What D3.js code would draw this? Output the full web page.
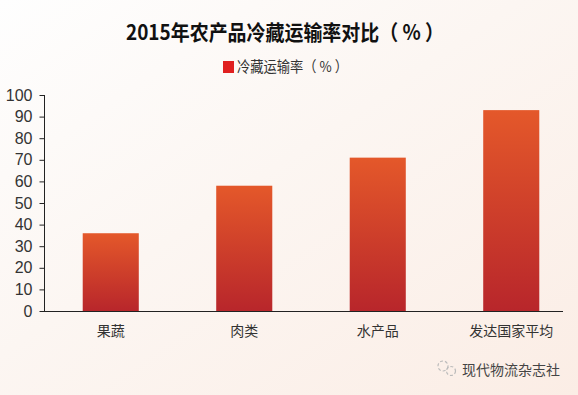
<!DOCTYPE html>
<html>
<head>
<meta charset="utf-8">
<script src="https://cdn.jsdelivr.net/npm/d3@7"></script>
<style>
  html, body { margin: 0; padding: 0; }
  body { width: 578px; height: 395px; overflow: hidden; }
  text { font-family: "Liberation Sans", "Noto Sans CJK SC", sans-serif; }
</style>
</head>
<body>
<div id="chart"></div>
<script>
// data
var categories = ["果蔬", "肉类", "水产品", "发达国家平均"];
var values = [36, 58, 71, 93];
var yTicks = [0, 10, 20, 30, 40, 50, 60, 70, 80, 90, 100];

var width = 578, height = 395;
var plotLeft = 44, plotTop = 95, plotBottom = 311;

var svg = d3.select("#chart").append("svg")
    .attr("width", width)
    .attr("height", height);

var defs = svg.append("defs");
var bg = defs.append("linearGradient").attr("id", "bg")
    .attr("x1", "0%").attr("y1", "0%").attr("x2", "100%").attr("y2", "100%");
bg.append("stop").attr("offset", "0%").attr("stop-color", "#fefefe");
bg.append("stop").attr("offset", "45%").attr("stop-color", "#fcf6f2");
bg.append("stop").attr("offset", "100%").attr("stop-color", "#fbede5");

var barGrad = defs.append("linearGradient").attr("id", "barGrad")
    .attr("x1", "0").attr("y1", "0").attr("x2", "0").attr("y2", "1");
barGrad.append("stop").attr("offset", "0%").attr("stop-color", "#e4582a");
barGrad.append("stop").attr("offset", "100%").attr("stop-color", "#b8262b");

svg.append("rect").attr("width", width).attr("height", height).attr("fill", "url(#bg)");

// title + legend
svg.append("text")
    .attr("x", 126).attr("y", 40)
    .attr("font-size", "21px")
    .attr("font-weight", "bold")
    .attr("fill", "#111")
    .attr("textLength", 318)
    .attr("lengthAdjust", "spacingAndGlyphs")
    .style("font-family", "'Noto Sans CJK SC', sans-serif")
    .text("2015年农产品冷藏运输率对比（ % ）");

svg.append("rect")
    .attr("x", 223).attr("y", 61).attr("width", 11).attr("height", 12)
    .attr("fill", "#e02020");
svg.append("text")
    .attr("x", 237).attr("y", 72)
    .attr("font-size", "15px")
    .attr("fill", "#333")
    .attr("textLength", 111)
    .attr("lengthAdjust", "spacingAndGlyphs")
    .style("font-family", "'Noto Sans CJK SC', sans-serif")
    .text("冷藏运输率（ % ）");

var x = d3.scaleBand()
    .domain(categories)
    .range([plotLeft, plotLeft + 534])
    .paddingInner(0.58)
    .paddingOuter(0.29);

var y = d3.scaleLinear()
    .domain([0, 100])
    .range([plotBottom, plotTop]);

// bars
svg.selectAll(".bar")
    .data(values)
    .enter().append("rect")
    .attr("class", "bar")
    .attr("x", function(d, i) { return x(categories[i]); })
    .attr("y", function(d) { return y(d); })
    .attr("width", x.bandwidth())
    .attr("height", function(d) { return plotBottom - y(d); })
    .attr("fill", "url(#barGrad)");

// y axis
var yAxis = svg.append("g")
    .attr("transform", "translate(" + (plotLeft + 0.5) + ",0)")
    .call(d3.axisLeft(y).tickValues(yTicks).tickSize(5).tickPadding(7));
yAxis.select(".domain").attr("stroke", "#222").attr("d", "M0," + plotTop + "V" + (plotBottom + 0.5));
yAxis.selectAll(".tick line").attr("stroke", "#222");
yAxis.selectAll(".tick text")
    .attr("font-size", "16px")
    .attr("fill", "#333")
    .style("font-family", "'Liberation Sans', sans-serif");

// x axis
var xAxis = svg.append("g")
    .attr("transform", "translate(0," + (plotBottom + 0.5) + ")")
    .call(d3.axisBottom(x).tickSize(0).tickPadding(15));
xAxis.select(".domain").attr("stroke", "#222").attr("d", "M" + plotLeft + ",0H563");
xAxis.selectAll(".tick text")
    .attr("font-size", "14px")
    .attr("fill", "#333")
    .style("font-family", "'Noto Sans CJK SC', sans-serif");

// watermark
var wm = svg.append("g").attr("transform", "translate(446,369)");
wm.append("circle").attr("cx", -3).attr("cy", -3).attr("r", 5)
    .attr("fill", "none").attr("stroke", "#bbb").attr("stroke-width", 1.2).attr("stroke-dasharray", "3,2");
wm.append("circle").attr("cx", 5).attr("cy", 2).attr("r", 4.5)
    .attr("fill", "none").attr("stroke", "#bbb").attr("stroke-width", 1.2).attr("stroke-dasharray", "3,2");
svg.append("text")
    .attr("x", 462).attr("y", 375)
    .attr("font-size", "14px")
    .attr("fill", "#444")
    .style("font-family", "'Noto Sans CJK SC', sans-serif")
    .text("现代物流杂志社");
</script>
</body>
</html>
